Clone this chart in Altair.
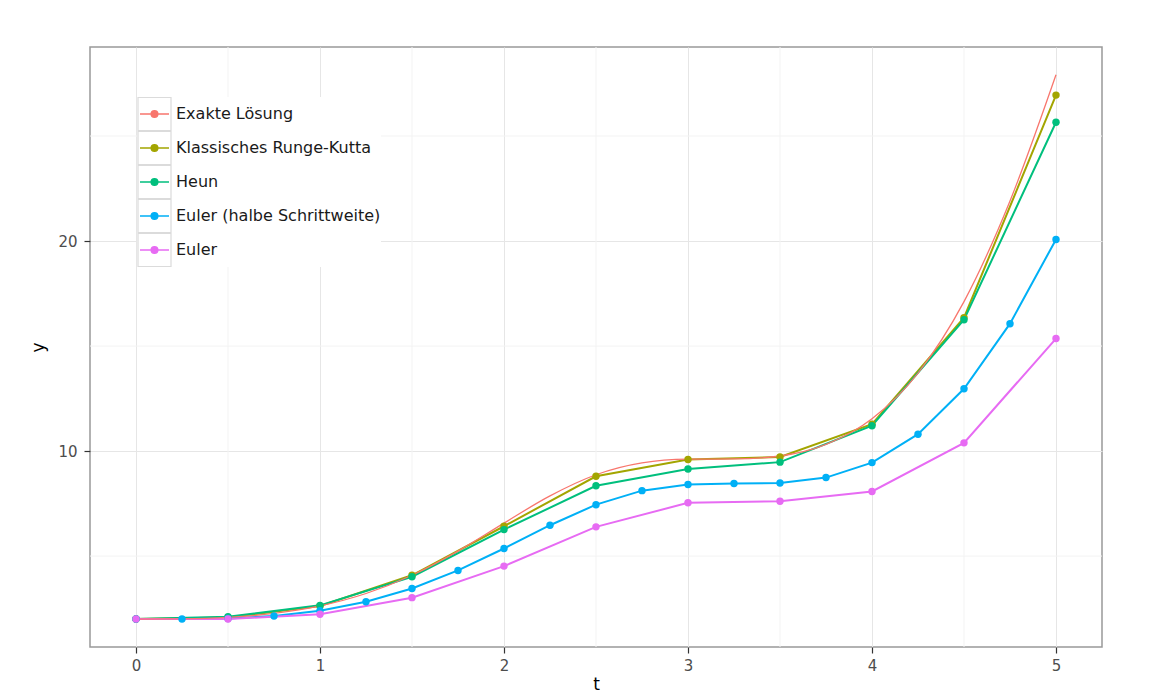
import altair as alt
import pandas as pd

# ---------------- data ----------------
methods = ["Exakte Lösung", "Klassisches Runge-Kutta", "Heun",
           "Euler (halbe Schrittweite)", "Euler"]
colors = ["#F8766D", "#A3A500", "#00BF7D", "#00B0F6", "#E76BF3"]

t_exact = [0.0, 0.25, 0.5, 0.75, 1.0, 1.25, 1.5, 1.75, 2.0, 2.25, 2.5,
           2.75, 3.0, 3.25, 3.5, 3.75, 4.0, 4.25, 4.5, 4.75, 5.0]
y_exact = [2.0, 2.0103, 2.0809, 2.2677, 2.6270, 3.2173, 4.0872, 5.2375,
           6.5690, 7.8658, 8.8718, 9.4360, 9.6117, 9.6250, 9.7657, 10.3155,
           11.5406, 13.7154, 17.118, 21.9096, 27.9156]

t_coarse = [0.0, 0.5, 1.0, 1.5, 2.0, 2.5, 3.0, 3.5, 4.0, 4.5, 5.0]
y_rk = [2.0, 2.0806, 2.6265, 4.0861, 6.42, 8.80, 9.60, 9.72, 11.28, 16.35, 26.95]
y_heun = [2.0, 2.1149, 2.6539, 4.0175, 6.2604, 8.3468, 9.1432, 9.4728,
          11.2040, 16.2514, 25.6546]
y_euler = [2.0, 2.0, 2.2298, 3.0193, 4.5214, 6.3906, 7.5351, 7.6101,
           8.0783, 10.3917, 15.3567]

t_fine = [0.0, 0.25, 0.5, 0.75, 1.0, 1.25, 1.5, 1.75, 2.0, 2.25, 2.5,
          2.75, 3.0, 3.25, 3.5, 3.75, 4.0, 4.25, 4.5, 4.75, 5.0]
y_euler_half = [2.0, 2.0, 2.0306, 2.1473, 2.3967, 2.8209, 3.4561, 4.3158,
                5.3604, 6.4684, 7.4474, 8.1143, 8.4098, 8.4517, 8.4764,
                8.7372, 9.4507, 10.8039, 12.9674, 16.0652, 20.0759]

x_ticks = [0, 1, 2, 3, 4, 5]
y_ticks = [10, 20]
x_minor = [0.5, 1.5, 2.5, 3.5, 4.5]
y_minor = [5, 15, 25]
key_ids = [1, 2, 3, 4, 5]

# ---------------- tables ----------------
df_exact = pd.DataFrame({"t": t_exact, "y": y_exact, "method": methods[0]})
parts = [
    pd.DataFrame({"t": t_coarse, "y": y_rk, "method": methods[1]}),
    pd.DataFrame({"t": t_coarse, "y": y_heun, "method": methods[2]}),
    pd.DataFrame({"t": t_fine, "y": y_euler_half, "method": methods[3]}),
    pd.DataFrame({"t": t_coarse, "y": y_euler, "method": methods[4]}),
]
df_num = pd.concat(parts, ignore_index=True)
df_num["order"] = range(len(df_num))
df_xminor = pd.DataFrame({"t": x_minor})
df_yminor = pd.DataFrame({"y": y_minor})
df_keys = pd.DataFrame({"t": [0.0] * 5, "y": [2.0] * 5, "key": key_ids})

# ---------------- scales / axes ----------------
FONT = "DejaVu Sans"
xscale = alt.Scale(domain=[-0.25, 5.25], nice=False, zero=False)
yscale = alt.Scale(domain=[0.67, 29.24], nice=False, zero=False)
cscale = alt.Scale(domain=methods, range=colors)

xaxis = alt.Axis(values=x_ticks, format="d", title="t", titlePadding=3, labelPadding=5)
yaxis = alt.Axis(values=y_ticks, format="d", title="y", titlePadding=10, labelPadding=7)

X = alt.X("t:Q", scale=xscale, axis=xaxis)
Y = alt.Y("y:Q", scale=yscale, axis=yaxis)

SYM_SIZE = 1089
ROW_PAD = 0
CLIP_H = 34
# leading move-tos give the symbol the full key-box bounds without drawing anything
legend_path = ("M-1,-1M1,1M-0.88,0H0.88 "
               "M-0.2,0A0.2,0.2 0 1,1 0.2,0A0.2,0.2 0 1,1 -0.2,0 "
               "M-0.1,0A0.1,0.1 0 1,1 0.1,0A0.1,0.1 0 1,1 -0.1,0")

color_legend = alt.Legend(
    title=None, orient="none", legendX=47, legendY=50,
    padding=0, rowPadding=ROW_PAD, clipHeight=CLIP_H,
    symbolSize=SYM_SIZE, symbolType=legend_path,
    symbolStrokeWidth=1.5, labelFont=FONT, labelFontSize=16, labelLimit=0,
    labelColor="#1a1a1a", labelOffset=4, fillColor="white", zindex=1,
    values=methods,
)
COLOR = alt.Color("method:N", scale=cscale, legend=color_legend)

minor_x = alt.Chart(df_xminor).mark_rule(color="#f3f3f3", strokeWidth=1).encode(x=X)
minor_y = alt.Chart(df_yminor).mark_rule(color="#f3f3f3", strokeWidth=1).encode(y=Y)

num_lines = alt.Chart(df_num).mark_line(strokeWidth=2).encode(
    x=X, y=Y, color=COLOR, detail="method:N", order="order:Q",
)

exact_line = alt.Chart(df_exact).mark_line(strokeWidth=1.3, interpolate="monotone").encode(
    x=X, y=Y, color=COLOR,
)

num_points = alt.Chart(df_num).mark_point(filled=True, size=55, opacity=1).encode(
    x=X, y=Y, color=COLOR, order="order:Q",
)

key_boxes = alt.Chart(df_keys).mark_point(
    filled=False, color="#cccccc", strokeWidth=1.2
).encode(
    x=X, y=Y,
    shape=alt.Shape(
        "key:O",
        scale=alt.Scale(domain=key_ids, range=["square"] * 5),
        legend=alt.Legend(
            title=None, orient="none", legendX=47, legendY=50,
            padding=0, rowPadding=ROW_PAD, clipHeight=CLIP_H, symbolSize=SYM_SIZE,
            labelExpr="''", labelFontSize=16, labelOffset=0,
            symbolStrokeWidth=1.2, symbolFillColor="transparent", zindex=2,
        ),
    ),
).transform_filter("datum.t < -100")

chart = alt.layer(
    minor_x, minor_y, num_lines, exact_line, num_points, key_boxes
).properties(
    width=1012, height=600,
    autosize=alt.AutoSizeParams(type="none"),
    padding={"left": 82, "top": 39, "right": 58, "bottom": 50},
    background="white",
).configure_view(
    stroke="#999999", strokeWidth=1.5
).configure_axis(
    domain=False, grid=True, gridColor="#e6e6e6", gridWidth=1,
    tickColor="#333333", tickSize=6, tickWidth=1.2,
    labelFont=FONT, labelFontSize=15, labelColor="#4d4d4d",
    titleFont=FONT, titleFontSize=17, titleFontWeight="normal", titleColor="#000000",
)

chart.save("out.html", embed_options={"renderer": "svg", "actions": False})
